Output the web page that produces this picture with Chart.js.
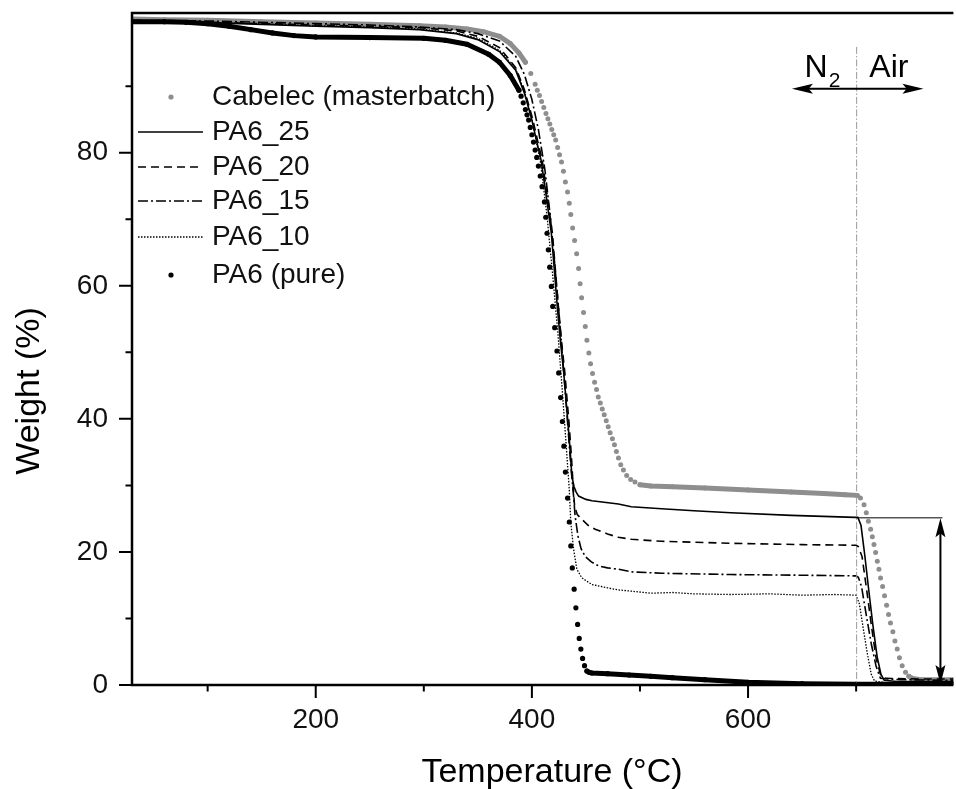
<!DOCTYPE html>
<html>
<head>
<meta charset="utf-8">
<script src="https://cdn.jsdelivr.net/npm/chart.js@4/dist/chart.umd.min.js"></script>
<style>
html,body{margin:0;padding:0;background:#fff;}
#wrap{width:956px;height:789px;position:relative;}
canvas{display:block;}
</style>
</head>
<body>
<div id="wrap"><canvas id="c" width="956" height="789"></canvas></div>
<script>
// ---------------- DATA ----------------
const seriesNames = ["Cabelec (masterbatch)", "PA6_25", "PA6_20", "PA6_15", "PA6_10", "PA6 (pure)"];

const cabelecT = [30,60,100,150,200,250,296,320,340,355,370,380,388,394,399,403,405,407,409,411,413,414.8,416.6,418.4,420.2,422,423.8,425.6,427.4,429.2,431,433,434.6,436,437.7,439.5,441.4,443.2,444.6,446,447.8,449.4,450.9,452.7,454.3,456.1,458,459.8,461.4,463.3,465.1,466.9,468.8,470.6,472.4,474.5,476.4,478.2,480.1,482.2,484.7,487.7,491.4,495.4,500,510,530,560,600,640,670,690,701,704,707.3,709.4,711.3,713.4,715,716.5,718,719.6,721.1,722.6,724.5,726.3,728.2,730,731.8,734,735.9,738,740.1,742.6,745.7,748.8,752,760,790];
const cabelecW = [100.1,100.0,99.9,99.7,99.5,99.3,99.1,98.9,98.6,98.2,97.5,96.4,95.0,93.6,91.9,90.3,89.4,88.6,87.7,86.8,85.9,85.1,84.3,83.5,82.7,81.9,80.8,79.7,78.6,77.2,75.6,74.1,72.4,70.7,68.7,66.8,64.8,62.6,60.3,58.2,56.0,53.9,51.8,49.9,48.3,46.8,45.5,44.4,43.3,42.4,41.5,40.6,39.7,38.8,37.9,37.0,36.1,35.1,34.1,33.1,32.3,31.5,30.9,30.5,30.1,29.9,29.8,29.6,29.3,29.0,28.8,28.6,28.5,28.1,27.1,25.9,24.6,23.4,22.3,21.1,19.9,18.6,17.4,16.1,14.8,13.4,12.0,10.6,9.3,8.0,6.6,5.4,4.1,2.9,1.9,1.3,1.0,0.8,0.8];

const pa6_25T = [30,80,130,200,250,296,330,350,370,385,393,400,404,408.5,413,418,423.5,426.5,429.5,433.3,435.5,437,439,441,443.2,450,455.5,480,492,520,550,584,640,699,701.6,704.5,708,711.5,715.5,719.5,723,726,740,790];
const pa6_25W = [99.8,99.7,99.4,99.0,98.8,98.5,97.9,97.0,95.2,92.4,89.0,84.9,82.0,78.9,73.8,67.9,56.9,51.5,46.9,39.5,35.0,31.4,29.8,29.0,28.4,27.9,27.7,27.2,26.8,26.5,26.2,25.9,25.5,25.2,25.2,24.0,19.5,14.5,9.0,4.2,1.6,0.7,0.5,0.5];

const pa6_20T = [30,80,130,200,250,296,330,350,370,385,393,401,405,409.5,414,419,424.5,427.5,430.5,434.3,436.5,438,439.5,442,446.2,452,458.6,470,480,492,520,584,650,699.9,702,705.5,710,714.5,718.5,722.5,727,760,790];
const pa6_20W = [99.8,99.7,99.5,99.2,99.0,98.8,98.3,97.5,95.8,92.8,89.5,84.9,82.0,78.9,73.8,67.9,56.9,51.5,46.9,39.5,34.5,30.4,26.9,25.6,24.9,24.0,23.4,22.7,22.2,21.9,21.6,21.3,21.1,21.0,20.8,19.3,14.0,8.5,4.0,1.6,1.0,0.9,0.9];

const pa6_15T = [30,100,200,250,296,330,350,370,385,393,400,406,412,417,421,425,429,433,436,438.5,440,442.6,445.5,449.3,455,461.7,470,480,492,520,584,650,699.9,702,705,709.5,714,718.5,722.5,740,790];
const pa6_15W = [99.9,99.8,99.4,99.2,98.9,98.5,97.9,96.8,94.5,91.8,88.0,83.5,77.5,70.5,63.5,56.0,48.0,39.5,33.0,28.5,25.4,22.4,20.5,19.3,18.5,17.9,17.6,17.4,17.0,16.8,16.6,16.5,16.4,16.2,14.8,10.4,6.2,2.8,1.0,0.8,0.7];

const pa6_10T = [30,100,200,250,296,330,350,370,385,393,400,408,414,419,424,428,432,434.6,436,438.6,441.6,446.2,455.5,470,480,492,510,530,550,584,620,650,680,700,703,706.5,710.5,714,717,730,790];
const pa6_10W = [99.7,99.6,99.1,98.9,98.6,98.0,97.2,95.4,92.6,89.3,85.0,78.5,70.5,62.0,53.0,44.5,35.4,29.4,24.4,20.4,17.4,16.1,15.1,14.6,14.3,14.1,13.8,13.9,13.7,13.6,13.7,13.5,13.6,13.5,12.2,8.6,4.6,1.6,0.6,0.3,0.3];

const pureT = [30,60,80,100,120,140,160,180,200,250,300,320,340,360,370,380,388,390,392,394,395.5,397,398.5,400,401.5,403,404.5,406,407.7,409.4,411.6,412.8,414,415.2,416.5,418,419.3,421.1,423.2,424.8,426.6,428.2,429.6,431,433,434.6,436,437.4,439.1,440.7,442.3,443.8,445.3,446.9,448.7,450.9,453,455.5,470,490,510,530,560,600,650,700,790];
const pureW = [99.7,99.7,99.6,99.4,99.0,98.5,98.0,97.6,97.4,97.3,97.2,96.9,96.3,94.8,93.6,91.6,89.4,88.5,87.5,86.5,85.7,84.9,83.8,82.7,81.6,80.4,79.3,78.0,76.5,74.9,72.6,70.3,67.9,65.4,62.8,59.9,56.9,53.7,50.2,46.9,43.2,39.6,35.9,32.0,28.1,24.5,20.9,17.6,14.4,11.6,9.1,7.0,5.4,4.0,2.9,2.1,1.9,1.8,1.7,1.5,1.3,1.1,0.8,0.4,0.2,0.1,0.1];

const xTickLabels = [200, 400, 600];
const yTickLabels = [0, 20, 40, 60, 80];
const xMinorTicks = [100, 300, 500, 700];
const yMinorTicks = [10, 30, 50, 70, 90];

const residueLevel = 25.2;   // PA6_25 residue marked by the double arrow
const switchTemp = 700;      // N2 -> Air switch

// ---------------- STYLE / LAYOUT ----------------
const FONT = '"Liberation Sans", Arial, Helvetica, sans-serif';
const GRAY = '#8e8e8e';
const legendLayout = { sampleX0: 138, sampleX1: 203, dotX: 171, textX: 212, rows: [97, 132, 167, 201, 237, 275] };

function pts(T, W) { return T.map((t, i) => ({ x: t, y: W[i] })); }

function dotSeries(label, T, W, color, order, r) {
  return {
    label, data: pts(T, W), showLine: true, order, isDots: true,
    borderColor: color, backgroundColor: color, pointBackgroundColor: color,
    borderWidth: 5, pointRadius: r, pointBorderWidth: 0, pointHoverRadius: 0,
    borderJoinStyle: 'round', borderCapStyle: 'round',
    segment: {
      borderColor: c => (Math.abs(c.p1.x - c.p0.x) < 6 && Math.abs(c.p1.y - c.p0.y) > 2.5) ? 'rgba(0,0,0,0)' : color
    }
  };
}
function lineSeries(label, T, W, dash, width, order) {
  return {
    label, data: pts(T, W), showLine: true, order,
    borderColor: '#000', backgroundColor: '#000', borderWidth: width, borderDash: dash,
    pointRadius: 0, pointHoverRadius: 0
  };
}

const datasets = [
  dotSeries(seriesNames[0], cabelecT, cabelecW, GRAY, 6, 2.5),
  lineSeries(seriesNames[1], pa6_25T, pa6_25W, [], 1.6, 1),
  lineSeries(seriesNames[2], pa6_20T, pa6_20W, [8, 5], 1.6, 2),
  lineSeries(seriesNames[3], pa6_15T, pa6_15W, [10, 3, 2, 3], 1.6, 3),
  lineSeries(seriesNames[4], pa6_10T, pa6_10W, [1.5, 1.5], 1.3, 4),
  dotSeries(seriesNames[5], pureT, pureW, '#000', 5, 2.6)
];

function arrowHead(ctx, x, y, ang, len, half) {
  ctx.save();
  ctx.translate(x, y); ctx.rotate(ang);
  ctx.beginPath();
  ctx.moveTo(0, 0); ctx.lineTo(-len, -half); ctx.lineTo(-len * 0.8, 0); ctx.lineTo(-len, half);
  ctx.closePath(); ctx.fill();
  ctx.restore();
}

const decor = {
  id: 'decor',
  afterDraw(chart) {
    const ctx = chart.ctx, xs = chart.scales.x, ys = chart.scales.y, ca = chart.chartArea;
    ctx.save();
    ctx.strokeStyle = '#000'; ctx.fillStyle = '#000';

    // ---- N2 / Air switch line (gray dash-dot) ----
    const xs700 = xs.getPixelForValue(switchTemp);
    ctx.save();
    ctx.strokeStyle = '#9a9a9a'; ctx.lineWidth = 1; ctx.setLineDash([7, 2, 1.5, 2]);
    ctx.beginPath(); ctx.moveTo(xs700 + 0.5, ys.getPixelForValue(95.9)); ctx.lineTo(xs700 + 0.5, ca.bottom); ctx.stroke();
    ctx.restore();

    // ---- horizontal double arrow N2 <-> Air ----
    const ay = ys.getPixelForValue(89.6);
    const ax0 = xs.getPixelForValue(640.6), ax1 = xs.getPixelForValue(762.3);
    ctx.lineWidth = 2;
    ctx.beginPath(); ctx.moveTo(ax0 + 6, ay); ctx.lineTo(ax1 - 6, ay); ctx.stroke();
    arrowHead(ctx, ax1, ay, 0, 21, 5);
    arrowHead(ctx, ax0, ay, Math.PI, 21, 5);

    // texts N2 and Air
    const tb = ys.getPixelForValue(91.4);
    ctx.textBaseline = 'alphabetic'; ctx.textAlign = 'left';
    ctx.font = '32px ' + FONT;
    const nx = xs.getPixelForValue(652.3);
    ctx.fillText('N', nx, tb);
    const nw = ctx.measureText('N').width;
    ctx.font = '21px ' + FONT;
    ctx.fillText('2', nx + nw + 1, tb + 10);
    ctx.font = '32px ' + FONT;
    ctx.fillText('Air', xs.getPixelForValue(712.2), tb);

    // ---- residue marker: thin line + vertical double arrow ----
    const ry = ys.getPixelForValue(residueLevel);
    const rx = xs.getPixelForValue(778);
    ctx.lineWidth = 1;
    ctx.beginPath(); ctx.moveTo(xs700, ry + 0.5); ctx.lineTo(rx + 2, ry + 0.5); ctx.stroke();
    ctx.lineWidth = 2;
    const by = ys.getPixelForValue(0);
    ctx.beginPath(); ctx.moveTo(rx, ry + 6); ctx.lineTo(rx, by - 6); ctx.stroke();
    arrowHead(ctx, rx, ry + 1, -Math.PI / 2, 19, 5);
    arrowHead(ctx, rx, by - 1, Math.PI / 2, 19, 5);

    // ---- axes frame ----
    ctx.lineWidth = 2.5;
    ctx.beginPath();
    ctx.moveTo(ca.left, ca.top); ctx.lineTo(ca.left, ca.bottom);
    ctx.moveTo(ca.left - 1.25, ca.bottom); ctx.lineTo(ca.right, ca.bottom);
    ctx.moveTo(ca.left - 1.25, ca.top); ctx.lineTo(ca.right, ca.top);
    ctx.stroke();

    // ---- tick marks (outward) ----
    ctx.lineWidth = 2;
    ctx.beginPath();
    xTickLabels.forEach(v => { const p = xs.getPixelForValue(v); ctx.moveTo(p, ca.bottom); ctx.lineTo(p, ca.bottom + 13); });
    xMinorTicks.forEach(v => { const p = xs.getPixelForValue(v); ctx.moveTo(p, ca.bottom); ctx.lineTo(p, ca.bottom + 6.5); });
    yTickLabels.forEach(v => { const p = ys.getPixelForValue(v); ctx.moveTo(ca.left, p); ctx.lineTo(ca.left - 13, p); });
    yMinorTicks.forEach(v => { const p = ys.getPixelForValue(v); ctx.moveTo(ca.left, p); ctx.lineTo(ca.left - 6.5, p); });
    ctx.stroke();

    // ---- axis titles ----
    ctx.font = '34px ' + FONT;
    ctx.textAlign = 'center'; ctx.textBaseline = 'alphabetic';
    ctx.fillText('Temperature (\u00B0C)', 552, 782);
    ctx.save();
    ctx.translate(39, 391); ctx.rotate(-Math.PI / 2);
    ctx.fillText('Weight (%)', 0, 0);
    ctx.restore();

    // ---- legend ----
    ctx.font = '28px ' + FONT;
    ctx.textAlign = 'left'; ctx.textBaseline = 'middle';
    chart.data.datasets.forEach((ds, i) => {
      const y = legendLayout.rows[i];
      ctx.save();
      if (ds.isDots) {
        ctx.fillStyle = ds.borderColor;
        ctx.beginPath(); ctx.arc(legendLayout.dotX, y, 2.6, 0, Math.PI * 2); ctx.fill();
      } else {
        ctx.strokeStyle = ds.borderColor; ctx.lineWidth = ds.borderWidth;
        ctx.setLineDash(ds.borderDash || []);
        ctx.beginPath(); ctx.moveTo(legendLayout.sampleX0, y); ctx.lineTo(legendLayout.sampleX1, y); ctx.stroke();
      }
      ctx.restore();
      ctx.fillStyle = '#111';
      ctx.fillText(ds.label, legendLayout.textX, y);
    });
    ctx.restore();
  }
};

new Chart(document.getElementById('c'), {
  type: 'scatter',
  data: { datasets },
  options: {
    responsive: false,
    animation: false,
    devicePixelRatio: 1,
    layout: { padding: { top: 13, right: 0, bottom: 0, left: 0 } },
    plugins: { legend: { display: false }, tooltip: { enabled: false } },
    elements: { line: { tension: 0 } },
    scales: {
      x: {
        type: 'linear', min: 30, max: 790,
        grid: { display: false, drawTicks: false },
        border: { display: false },
        ticks: {
          stepSize: 100, autoSkip: false, maxRotation: 0, padding: 18, color: '#111',
          font: { family: FONT, size: 28 },
          callback: v => xTickLabels.includes(v) ? String(v) : ''
        },
        afterFit: s => { s.height = 104; s.paddingLeft = 0; s.paddingRight = 0; }
      },
      y: {
        type: 'linear', min: 0, max: 101,
        grid: { display: false, drawTicks: false },
        border: { display: false },
        ticks: {
          stepSize: 10, autoSkip: false, padding: 24, color: '#111',
          font: { family: FONT, size: 28 },
          callback: v => yTickLabels.includes(v) ? String(v) : ''
        },
        afterFit: s => { s.width = 132; s.paddingTop = 0; s.paddingBottom = 0; }
      }
    }
  },
  plugins: [decor]
});
</script>
</body>
</html>
